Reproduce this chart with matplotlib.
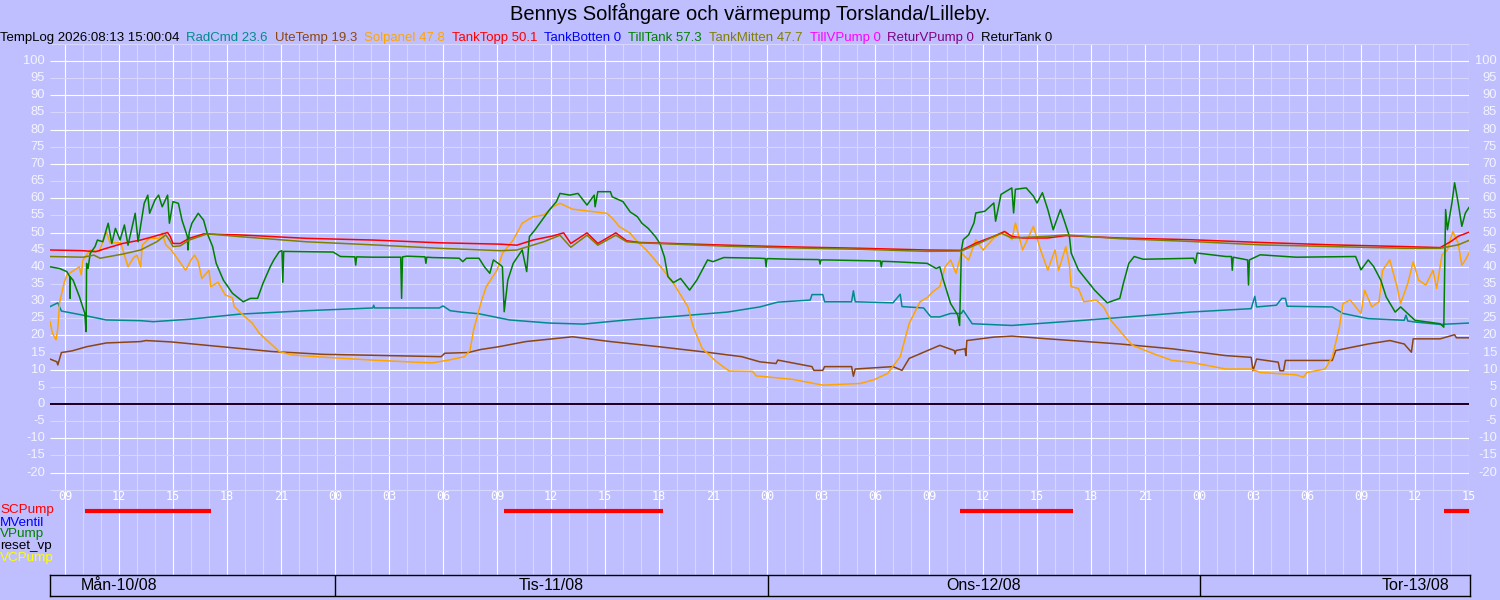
import matplotlib
matplotlib.use("Agg")
import matplotlib.pyplot as plt
import matplotlib.transforms as mtransforms

plt.rcParams['font.family'] = ['Liberation Sans', 'DejaVu Sans']

BAKGRUND = "#BFBFFF"
LJUS = "#D6D6FF"   # tunna rutnatslinjer
VIT = "#FFFFFF"

# tid i timmar fran mandag 00:00
START = 8 + 10 / 60.0
SLUT = 87.0

TITEL = "Bennys Solfångare och värmepump Torslanda/Lilleby."
TEMPLOG = "TempLog 2026:08:13 15:00:04"

NAMN = ["RadCmd", "UteTemp", "Solpanel", "TankTopp", "TankBotten", "TillTank",
        "TankMitten", "TillVPump", "ReturVPump", "ReturTank"]
SENASTE = ["23.6", "19.3", "47.8", "50.1", "0", "57.3", "47.7", "0", "0", "0"]
FARGER = ["#008B8B", "#8B4513", "#FFA500", "#FF0000", "#0000FF", "#008000",
          "#808000", "#FF00FF", "#800080", "#000000"]

# (timme, grader) avlast ur bilden
RADCMD = [(8.17, 28.4), (8.6, 29.5), (8.8, 27.1), (9.9, 26.0), (11.3, 24.5), (13.2, 24.3),
          (13.9, 24.0), (15.9, 24.7), (18.7, 26.2), (22.4, 27.2), (26.1, 28.0), (26.15, 28.8),
          (26.2, 28.0), (29.8, 28.0), (30.0, 28.6), (30.4, 27.2), (31.0, 26.8), (32.0, 26.3),
          (33.7, 24.5), (35.9, 23.6), (37.8, 23.3), (40.2, 24.5), (43.0, 25.6), (45.8, 26.8),
          (47.6, 28.3), (48.6, 29.7), (50.4, 30.3), (50.5, 31.9), (51.1, 31.9), (51.2, 29.8),
          (52.7, 29.8), (52.8, 33.0), (52.9, 29.8), (55.0, 29.5), (55.4, 32.0), (55.5, 28.4),
          (56.7, 28.0), (57.1, 25.4), (57.6, 25.4), (58.2, 26.4), (58.8, 26.4), (58.9, 27.3),
          (59.4, 23.4), (61.6, 22.9), (65.6, 24.4), (71.5, 26.8), (74.9, 27.8), (75.1, 31.4),
          (75.2, 28.3), (76.3, 28.8), (76.6, 30.8), (76.8, 30.8), (76.9, 28.5), (79.4, 28.3),
          (80.0, 26.4), (81.4, 24.9), (83.4, 24.4), (83.5, 25.9), (83.6, 24.2), (84.0, 23.9),
          (85.4, 23.2), (87.0, 23.6)]

UTETEMP = [(8.17, 13.1), (8.55, 12.3), (8.6, 11.4), (8.8, 15.0), (9.4, 15.5), (10.2, 16.7),
           (11.3, 17.8), (13.2, 18.2), (13.5, 18.5), (14.9, 18.1), (17.7, 16.7), (20.5, 15.3),
           (23.3, 14.5), (26.1, 14.2), (29.9, 13.8), (30.1, 14.8), (31.4, 15.0), (32.1, 15.9),
           (33.1, 16.7), (34.6, 18.2), (37.2, 19.6), (39.3, 18.2), (42.0, 16.7), (44.8, 15.0),
           (46.6, 13.8), (47.6, 12.3), (48.5, 11.8), (48.6, 12.8), (50.5, 10.9), (50.6, 9.8),
           (51.1, 9.8), (51.2, 10.9), (52.7, 10.9), (52.8, 8.1), (52.9, 10.2), (55.0, 10.9),
           (55.5, 9.8), (55.9, 13.3), (57.6, 17.1), (58.4, 15.6), (58.45, 14.6), (58.5, 15.6),
           (59.0, 16.1), (59.05, 14.1), (59.1, 18.5), (60.6, 19.5), (61.6, 19.8), (63.6, 19.0),
           (67.6, 17.5), (70.5, 16.1), (73.5, 14.1), (74.9, 13.6), (75.0, 9.7), (75.2, 13.1),
           (76.4, 12.2), (76.5, 9.7), (76.7, 9.7), (76.8, 12.7), (79.4, 12.7), (79.6, 15.6),
           (81.4, 17.5), (82.6, 18.5), (83.4, 17.5), (83.8, 15.1), (83.9, 19.0), (85.4, 19.0),
           (86.2, 20.2), (86.3, 19.3), (87.0, 19.3)]

SOLPANEL = [(8.17, 24.0), (8.3, 20.7), (8.5, 18.7), (8.6, 22.0), (8.7, 29.6), (8.95, 35.3),
            (9.1, 37.6), (9.8, 40.0), (9.9, 37.6), (10.0, 42.0), (10.4, 44.9), (10.9, 44.4),
            (11.3, 50.2), (11.5, 47.0), (12.1, 47.0), (12.5, 40.0), (12.8, 42.6), (13.0, 43.4),
            (13.2, 40.0), (13.3, 46.4), (13.7, 48.3), (14.2, 48.3), (14.4, 49.8), (14.6, 46.4),
            (14.9, 44.9), (15.3, 42.0), (15.7, 39.0), (16.0, 42.0), (16.2, 43.4), (16.4, 41.5),
            (16.6, 36.6), (17.0, 39.0), (17.1, 34.2), (17.5, 35.5), (17.9, 31.8), (18.3, 31.0),
            (18.4, 28.4), (18.8, 26.4), (19.4, 23.6), (19.8, 20.6), (20.4, 17.7), (20.9, 15.3),
            (21.6, 14.3), (23.5, 13.6), (26.1, 12.8), (28.0, 12.3), (29.4, 12.0), (30.3, 12.8),
            (31.2, 13.8), (31.5, 15.7), (31.7, 21.6), (32.1, 29.4), (32.4, 34.2), (33.0, 39.0),
            (33.3, 43.9), (33.9, 47.8), (34.4, 52.7), (35.0, 54.6), (35.6, 55.1), (36.1, 57.5),
            (36.5, 58.5), (37.2, 56.8), (38.3, 56.1), (39.1, 55.6), (39.4, 54.2), (39.8, 51.7),
            (40.4, 49.8), (40.8, 47.3), (41.3, 44.9), (42.1, 40.0), (42.8, 35.2), (43.6, 28.4),
            (43.9, 22.5), (44.4, 16.2), (45.2, 12.3), (45.9, 9.6), (47.2, 9.5), (47.4, 8.2),
            (49.4, 7.2), (51.1, 5.5), (53.2, 6.0), (53.9, 7.0), (54.7, 8.9), (55.4, 13.8),
            (55.9, 23.5), (56.5, 29.8), (56.9, 31.0), (57.2, 32.7), (57.6, 34.2), (57.9, 40.0),
            (58.2, 42.0), (58.5, 38.1), (58.8, 44.0), (59.2, 42.0), (59.6, 47.9), (60.0, 44.9),
            (60.6, 48.4), (61.2, 50.3), (61.6, 47.9), (61.8, 52.8), (62.2, 44.9), (62.8, 51.8),
            (63.2, 44.9), (63.6, 39.0), (64.0, 44.9), (64.2, 39.0), (64.6, 45.9), (64.8, 40.5),
            (64.9, 34.2), (65.3, 33.7), (65.6, 29.8), (66.3, 30.3), (66.7, 28.3), (67.1, 24.4),
            (67.9, 19.5), (68.3, 17.1), (69.5, 14.6), (70.5, 12.7), (71.5, 12.2), (72.5, 11.2),
            (73.5, 10.2), (74.9, 10.2), (75.4, 9.2), (77.4, 8.5), (77.8, 7.8), (78.0, 9.2),
            (79.0, 10.2), (79.4, 13.6), (79.8, 22.4), (80.0, 29.3), (80.4, 30.3), (81.0, 26.4),
            (81.2, 33.2), (81.6, 28.3), (82.0, 29.8), (82.2, 39.0), (82.6, 42.0), (83.0, 34.2),
            (83.2, 29.3), (83.6, 35.2), (83.9, 41.5), (84.2, 36.1), (84.6, 34.7), (85.0, 39.0),
            (85.2, 33.7), (85.5, 43.5), (85.8, 44.9), (86.1, 50.3), (86.4, 46.9), (86.6, 40.5),
            (86.8, 42.0), (87.0, 44.0)]

TANKTOPP = [(8.17, 44.9), (10.0, 44.7), (10.7, 44.4), (11.3, 45.4), (12.2, 46.8), (13.2, 47.8),
            (13.9, 48.8), (14.7, 50.0), (14.85, 48.8), (15.0, 46.8), (15.4, 46.8), (15.9, 48.3),
            (16.7, 49.6), (18.7, 49.3), (22.4, 48.3), (26.1, 47.8), (29.8, 47.0), (33.2, 46.6),
            (34.1, 46.3), (35.0, 47.8), (36.1, 49.0), (36.7, 49.9), (37.1, 46.8), (38.0, 49.9),
            (38.6, 46.8), (39.6, 49.9), (40.2, 47.6), (40.9, 47.1), (45.8, 46.3), (49.4, 45.8),
            (53.2, 45.4), (56.9, 44.9), (58.8, 44.8), (59.6, 46.9), (60.6, 48.9), (61.2, 50.3),
            (61.6, 48.9), (62.2, 48.4), (63.6, 48.4), (64.6, 49.1), (67.6, 48.4), (71.5, 47.9),
            (75.4, 47.1), (79.4, 46.4), (83.4, 45.9), (85.4, 45.6), (86.0, 47.4), (86.4, 48.9),
            (87.0, 50.1)]

TANKMITTEN = [(8.17, 43.0), (10.0, 42.8), (10.6, 43.4), (10.95, 42.5), (12.2, 43.7), (13.2, 44.9),
              (14.1, 47.3), (14.6, 49.3), (14.8, 47.8), (15.0, 45.9), (15.4, 46.1), (15.9, 47.8),
              (16.9, 49.6), (18.7, 48.8), (22.4, 47.3), (26.1, 46.4), (29.8, 45.4), (33.2, 44.7),
              (34.1, 44.9), (35.6, 47.3), (36.5, 49.2), (37.1, 45.7), (38.0, 49.2), (38.6, 46.3),
              (39.6, 49.2), (40.2, 47.3), (40.9, 47.0), (45.8, 46.0), (49.4, 45.5), (53.2, 45.1),
              (56.9, 44.5), (58.8, 44.6), (59.6, 46.4), (61.0, 49.8), (61.6, 48.4), (63.6, 48.9),
              (64.6, 49.3), (67.6, 48.2), (71.5, 47.4), (75.4, 46.4), (79.4, 45.9), (83.4, 45.4),
              (85.4, 45.4), (86.4, 46.4), (87.0, 47.7)]

TILLTANK = [(8.17, 40.0), (8.7, 39.5), (9.1, 38.6), (9.27, 37.1), (9.28, 30.8), (9.3, 37.0),
            (9.45, 36.1), (9.8, 31.3), (10.1, 26.4), (10.17, 21.1), (10.2, 41.0), (10.28, 39.5),
            (10.4, 43.9), (10.67, 45.9), (10.8, 47.8), (11.1, 47.3), (11.4, 52.7), (11.6, 46.8),
            (11.8, 51.2), (12.06, 47.8), (12.3, 52.2), (12.5, 46.3), (12.9, 55.6), (13.06, 47.3),
            (13.4, 58.5), (13.6, 60.9), (13.7, 55.6), (14.0, 59.5), (14.2, 60.9), (14.4, 57.5),
            (14.7, 60.9), (14.8, 52.7), (15.0, 59.0), (15.3, 58.5), (15.5, 53.6), (15.8, 48.8),
            (15.83, 44.9), (15.9, 50.0), (16.05, 52.7), (16.4, 55.6), (16.7, 53.6), (16.9, 49.8),
            (17.2, 45.9), (17.4, 41.0), (17.8, 36.1), (18.3, 32.3), (18.9, 29.8), (19.3, 30.8),
            (19.7, 30.8), (20.0, 35.2), (20.4, 40.0), (20.6, 42.0), (20.9, 44.4), (21.05, 44.7),
            (21.1, 35.5), (21.15, 44.5), (23.9, 44.3), (24.3, 43.0), (25.1, 42.9), (25.15, 40.5),
            (25.2, 42.9), (26.1, 42.8), (27.65, 42.8), (27.7, 30.8), (27.75, 42.9), (28.0, 43.1),
            (29.0, 42.9), (29.05, 41.0), (29.1, 42.8), (29.4, 42.7), (30.9, 42.5), (31.1, 41.5),
            (31.3, 42.5), (32.0, 42.5), (32.3, 40.0), (32.6, 38.1), (32.8, 42.0), (33.2, 40.5),
            (33.3, 40.0), (33.4, 26.9), (33.6, 36.1), (33.9, 41.0), (34.4, 44.9), (34.65, 38.6),
            (34.8, 48.8), (35.1, 50.7), (35.5, 53.6), (35.9, 56.5), (36.3, 59.0), (36.5, 61.4),
            (37.05, 60.9), (37.5, 61.4), (38.0, 58.0), (38.4, 60.9), (38.45, 57.5), (38.6, 61.9),
            (39.3, 61.9), (39.4, 60.4), (40.0, 59.0), (40.4, 56.0), (40.8, 54.6), (41.05, 52.7),
            (41.4, 51.2), (41.8, 48.8), (42.05, 46.8), (42.3, 42.9), (42.5, 37.1), (42.8, 35.4),
            (43.2, 36.6), (43.7, 33.2), (44.1, 36.1), (44.7, 42.0), (45.0, 41.5), (45.6, 42.7),
            (47.6, 42.5), (47.9, 42.4), (47.95, 40.0), (48.0, 42.4), (49.4, 42.2), (50.9, 42.1),
            (50.95, 40.8), (51.0, 42.0), (51.3, 42.0), (53.2, 41.8), (54.3, 41.7), (54.35, 40.0),
            (54.4, 41.6), (55.0, 41.5), (56.9, 41.0), (57.4, 39.5), (57.6, 40.0), (57.8, 36.1),
            (58.2, 29.3), (58.6, 25.9), (58.7, 22.9), (58.8, 44.9), (58.9, 47.9), (59.2, 49.3),
            (59.5, 52.8), (59.6, 55.7), (60.1, 56.2), (60.6, 58.6), (60.7, 53.3), (61.0, 61.1),
            (61.6, 63.0), (61.7, 55.7), (61.8, 62.6), (62.4, 63.0), (62.8, 60.6), (63.0, 58.6),
            (63.3, 61.6), (63.6, 56.7), (63.9, 50.8), (64.3, 56.7), (64.5, 53.7), (64.8, 48.9),
            (64.9, 44.0), (65.3, 39.1), (66.2, 33.2), (66.9, 29.5), (67.6, 30.8), (67.8, 35.2),
            (68.1, 41.0), (68.4, 43.0), (68.9, 42.2), (71.7, 42.5), (71.8, 41.0), (71.9, 44.0),
            (73.5, 43.0), (73.8, 43.0), (73.85, 39.0), (73.9, 42.8), (74.7, 42.0), (74.75, 34.7),
            (74.8, 42.0), (75.4, 43.5), (77.4, 42.8), (80.7, 43.0), (81.0, 39.1), (81.4, 42.0),
            (81.7, 40.1), (82.1, 36.1), (82.4, 31.2), (82.9, 26.8), (83.2, 28.3), (84.0, 24.4),
            (85.4, 23.4), (85.6, 22.4), (85.7, 56.7), (85.8, 50.8), (86.05, 58.6), (86.2, 64.5),
            (86.4, 58.6), (86.6, 51.8), (86.8, 55.7), (87.0, 57.3)]

# serier som ligger pa noll hela perioden
NOLL = [(START, 0.0), (SLUT, 0.0)]

PUMPAR = ["SCPump", "MVentil", "VPump", "reset_vp", "VCPump"]
PUMPFARGER = ["#FF0000", "#0000FF", "#008000", "#000000", "#FFFF00"]
SCPUMP_PA = [(10.1, 17.1), (33.4, 42.2), (58.7, 65.0), (85.6, 87.0)]

DAGAR = ["Mån-10/08", "Tis-11/08", "Ons-12/08", "Tor-13/08"]


def px_till_grad(y):
    # pixelrad i bilden -> grader (100 pa rad 61, 0 pa rad 404)
    return (404 - y) / 3.43


fig = plt.figure(figsize=(15, 6), dpi=100, facecolor=BAKGRUND)
ax = fig.add_axes([50 / 1500, 25 / 600, 1419 / 1500, (575 - 43.8) / 600])
ax.set_facecolor(BAKGRUND)
ax.set_xlim(START, SLUT)
ax.set_ylim(px_till_grad(575), px_till_grad(43.8))
for s in ax.spines.values():
    s.set_visible(False)
ax.set_xticks([])
ax.set_yticks([])

# rutnat
for h in range(9, 88):
    ax.axvline(h, color=VIT if h % 3 == 0 else LJUS, lw=0.8, zorder=0)
for v in range(-25, 106, 5):
    ax.hlines(v, START, SLUT, color=VIT if v % 10 == 0 else LJUS, lw=0.8, zorder=0.5)

trans = mtransforms.blended_transform_factory(fig.transFigure, ax.transData)
for v in range(-20, 101, 5):
    ax.text(45 / 1500, v, str(v), transform=trans, ha='right', va='center',
            fontsize=9.3, color="#F4F4FF")
    ax.text(1497 / 1500, v, str(v), transform=trans, ha='right', va='center',
            fontsize=9.3, color="#F4F4FF")

for h in range(9, 88, 3):
    ax.text(h, px_till_grad(497), "%02d" % (h % 24), ha='center', va='center',
            fontsize=8.5, color=VIT, family='DejaVu Sans Mono')

serier = [RADCMD, UTETEMP, SOLPANEL, TANKTOPP, NOLL, TILLTANK, TANKMITTEN, NOLL, NOLL, NOLL]
for data, farg in zip(serier, FARGER):
    xs = [p[0] for p in data]
    ys = [p[1] for p in data]
    ax.plot(xs, ys, color=farg, lw=1.1, zorder=2)

# pumpar
for i, (namn, farg) in enumerate(zip(PUMPAR, PUMPFARGER)):
    rad = px_till_grad(510.5 + 12 * i)
    ax.text(0.0, rad, namn, transform=trans, ha='left', va='center', fontsize=9.7, color=farg)
for a, b in SCPUMP_PA:
    ax.hlines(px_till_grad(511), a, b, color="#FF0000", lw=3.0, zorder=3)

# dagsrutor
dax = fig.add_axes([50 / 1500, 4 / 600, 1420 / 1500, 21 / 600])
dax.set_facecolor(BAKGRUND)
dax.set_xlim(START, SLUT)
dax.set_ylim(0, 1)
dax.set_xticks([])
dax.set_yticks([])
for s in dax.spines.values():
    s.set_color("black")
    s.set_linewidth(1.0)
for i, dag in enumerate(DAGAR):
    if i > 0:
        dax.axvline(24 * i, color="black", lw=1.0)
    dax.text(24 * i + 12, 0.5, dag, ha='center', va='center', fontsize=11.5, color="black")

fig.text(0.5, 1 - 13 / 600, TITEL, ha='center', va='center', fontsize=14.5, color="black")

renderer = fig.canvas.get_renderer()
x = 0.0
texter = [TEMPLOG] + ["%s %s" % (n, v) for n, v in zip(NAMN, SENASTE)]
fargerna = ["#000000"] + FARGER
for txt, farg in zip(texter, fargerna):
    t = fig.text(x / 1500, 1 - 38 / 600, txt, ha='left', va='center', fontsize=9.5, color=farg)
    bb = t.get_window_extent(renderer)
    x = bb.x1 + 7

fig.savefig("out.png", dpi=100, facecolor=BAKGRUND)
